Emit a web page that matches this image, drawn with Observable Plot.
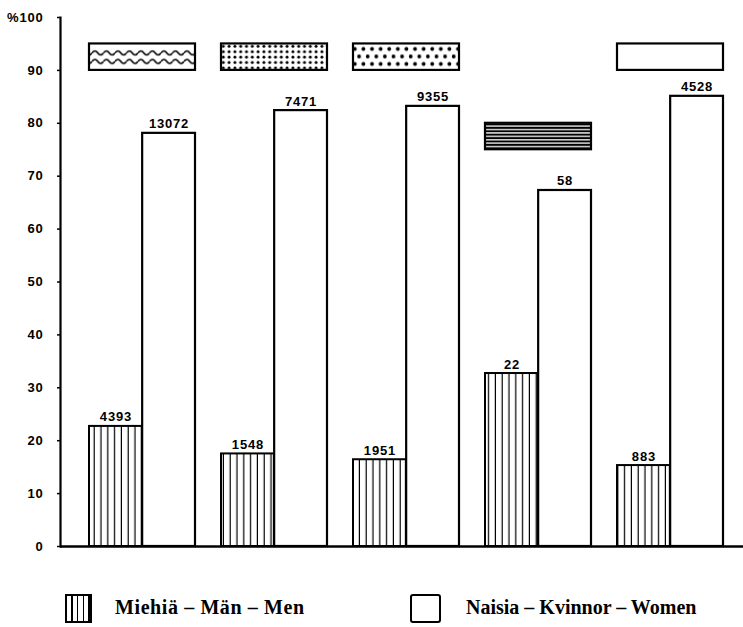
<!DOCTYPE html>
<html><head><meta charset="utf-8">
<script src="https://cdn.jsdelivr.net/npm/d3@7"></script>
<script src="https://cdn.jsdelivr.net/npm/@observablehq/plot@0.6"></script>
<style>
body{margin:0;background:#fff;width:743px;height:627px;position:relative;overflow:hidden}
#chart{position:absolute;left:0;top:0}
.lg{position:absolute;font-family:"Liberation Serif","Times New Roman",serif;font-weight:bold;font-size:20px;color:#000;line-height:22px;white-space:nowrap}
.sw{position:absolute;box-sizing:border-box;border:2px solid #000}
</style></head><body>
<div id="chart"></div>
<div class="sw" style="left:65px;top:594px;width:27px;height:29px;background:repeating-linear-gradient(90deg,#fff 0 4.3px,#000 4.3px 5.7px)"></div>
<div class="lg" style="left:115px;top:596px;letter-spacing:0.6px">Miehiä – Män – Men</div>
<div class="sw" style="left:410px;top:594px;width:31px;height:29px;border-radius:3px;background:#fff"></div>
<div class="lg" style="left:466px;top:596px">Naisia – Kvinnor – Women</div>
<script>
const groups = ["wavy", "fineDots", "coarseDots", "lines", "blank"];
const menPct = [22.7, 17.5, 16.4, 32.7, 15.3];
const womenPct = [78.1, 82.4, 83.2, 67.3, 85.1];
const menCount = ["4393", "1548", "1951", "22", "883"];
const womenCount = ["13072", "7471", "9355", "58", "4528"];
const keyLow = [90, 90, 90, 75, 90];
const keyHigh = [95, 95, 95, 80, 95];
const keyFill = ["url(#wave)", "url(#fineDots)", "url(#coarseDots)", "url(#hlines)", "white"];
const yTicks = [0, 10, 20, 30, 40, 50, 60, 70, 80, 90, 100];

const idx = groups.map((_, i) => i);
const xRange = [88, 724];
const padInner = 0.197;
const step = (xRange[1] - xRange[0]) / (groups.length - padInner);
const half = step * (1 - padInner) / 2;

const chart = Plot.plot({
  width: 743,
  height: 580,
  marginLeft: 60,
  marginRight: 0,
  marginTop: 17,
  marginBottom: 34,
  style: {fontFamily: "'Liberation Sans', Arial, sans-serif", fontWeight: "bold", fontSize: "13px", color: "#000", background: "#fff", letterSpacing: "0.8px"},
  x: {type: "band", domain: groups, range: xRange, paddingInner: padInner, paddingOuter: 0, axis: null},
  y: {domain: [0, 100], axis: null},
  color: {type: "identity"},
  marks: [
    Plot.barY(idx, {x: i => groups[i], y: i => womenPct[i], insetLeft: half, fill: "white", stroke: "black", strokeWidth: 2.2}),
    Plot.barY(idx, {x: i => groups[i], y: i => menPct[i], insetRight: half, fill: "url(#vstripes)", stroke: "black", strokeWidth: 2}),
    Plot.barY(idx, {x: i => groups[i], y1: i => keyLow[i], y2: i => keyHigh[i], fill: i => keyFill[i], stroke: "black", strokeWidth: 2.2}),
    Plot.text(idx, {x: i => groups[i], y: i => womenPct[i], text: i => womenCount[i], dx: half / 2, dy: -5, lineAnchor: "bottom", fontSize: 13, fontWeight: "bold"}),
    Plot.text(idx, {x: i => groups[i], y: i => menPct[i], text: i => menCount[i], dx: -half / 2, dy: -5, lineAnchor: "bottom", fontSize: 13, fontWeight: "bold"}),
    Plot.axisY({ticks: yTicks, anchor: "left", tickSize: 3, tickPadding: 14, tickFormat: d => d === 100 ? "%100" : String(d), fontSize: 13, fontWeight: "bold", strokeWidth: 1.5}),
    Plot.frame({anchor: "left", strokeWidth: 2.2}),
    Plot.ruleY([0], {strokeWidth: 2.4})
  ]
});

// pattern definitions aligned with the key boxes
const yS = chart.scale("y");
const boxTop = yS.apply(95), boxBot = yS.apply(90);
const bh = boxBot - boxTop;
const defs = d3.select(chart).insert("defs", ":first-child");
const wave = defs.append("pattern").attr("id", "wave").attr("patternUnits", "userSpaceOnUse")
  .attr("x", 0).attr("y", boxTop).attr("width", 11.5).attr("height", 400);
wave.append("rect").attr("width", 11.5).attr("height", 400).attr("fill", "white");
[bh * 0.36, bh * 0.68].forEach(o => {
  wave.append("path").attr("d", `M0,${o} q2.875,-4 5.75,0 t5.75,0`).attr("fill", "none").attr("stroke", "black").attr("stroke-width", 1.6);
});
const fd = defs.append("pattern").attr("id", "fineDots").attr("patternUnits", "userSpaceOnUse")
  .attr("x", 0).attr("y", boxTop).attr("width", 5.8).attr("height", 5.4);
fd.append("rect").attr("width", 5.8).attr("height", 5.4).attr("fill", "white");
fd.append("circle").attr("cx", 2.9).attr("cy", 2.9).attr("r", 1.45).attr("fill", "black");
const cd = defs.append("pattern").attr("id", "coarseDots").attr("patternUnits", "userSpaceOnUse")
  .attr("x", 0).attr("y", boxTop).attr("width", 8.6).attr("height", 15);
cd.append("rect").attr("width", 8.6).attr("height", 15).attr("fill", "white");
cd.append("circle").attr("cx", 2.2).attr("cy", 5.5).attr("r", 1.9).attr("fill", "black");
cd.append("circle").attr("cx", 6.5).attr("cy", 13).attr("r", 1.9).attr("fill", "black");
cd.append("circle").attr("cx", 6.5).attr("cy", -2).attr("r", 1.9).attr("fill", "black");
const hl = defs.append("pattern").attr("id", "hlines").attr("patternUnits", "userSpaceOnUse")
  .attr("x", 0).attr("y", yS.apply(80)).attr("width", 10).attr("height", 3.4);
hl.append("rect").attr("width", 10).attr("height", 3.4).attr("fill", "white");
hl.append("rect").attr("y", 0.6).attr("width", 10).attr("height", 2.1).attr("fill", "black");
const vs = defs.append("pattern").attr("id", "vstripes").attr("patternUnits", "userSpaceOnUse")
  .attr("x", 88).attr("y", 0).attr("width", 6.8).attr("height", 10);
vs.append("rect").attr("width", 6.8).attr("height", 10).attr("fill", "white");
vs.append("rect").attr("x", 6.8 - 1.2).attr("width", 1.2).attr("height", 10).attr("fill", "black");

document.getElementById("chart").appendChild(chart);
</script>
</body></html>
